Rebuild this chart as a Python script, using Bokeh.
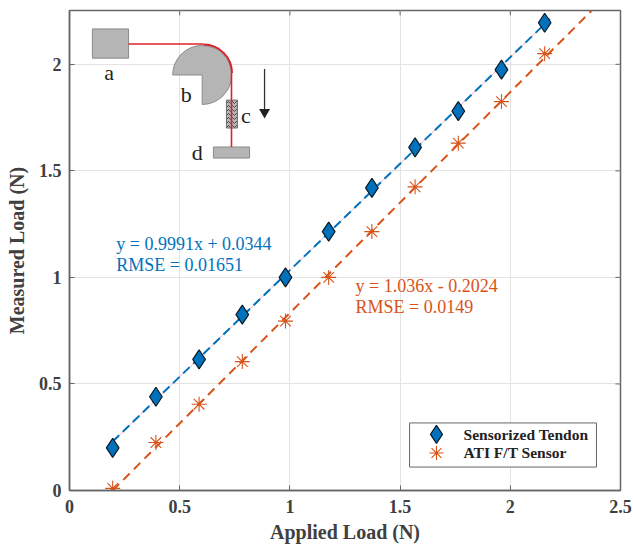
from bokeh.plotting import figure
from bokeh.embed import file_html
from bokeh.resources import INLINE
from bokeh.models import FixedTicker, Range1d
from bokeh.core.properties import value

# --- chart data ---
applied = [0.196, 0.392, 0.588, 0.784, 0.98, 1.176, 1.372, 1.568, 1.764, 1.96, 2.156]
tendon = [0.20, 0.44, 0.615, 0.825, 1.0, 1.215, 1.42, 1.61, 1.78, 1.975, 2.195]
ati = [0.01, 0.225, 0.405, 0.605, 0.795, 1.0, 1.215, 1.425, 1.63, 1.825, 2.05]
fit_tendon_x = [0.196, 2.18]
fit_tendon_y = [0.23, 2.213]
fit_ati_x = [0.196, 2.37]
fit_ati_y = [0.0, 2.253]
x_ticks = [0, 0.5, 1, 1.5, 2, 2.5]
x_labels = ["0", "0.5", "1", "1.5", "2", "2.5"]
y_ticks = [0, 0.5, 1, 1.5, 2]
y_labels = ["0", "0.5", "1", "1.5", "2"]
series_names = ["Sensorized Tendon", "ATI F/T Sensor"]

# --- schematic inset (in data units) ---
box_a = (0.104, 0.268, 2.029, 2.166)
box_d = (0.653, 0.817, 1.560, 1.612)
box_c = (0.712, 0.762, 1.701, 1.832)
pulley_xy = (0.602, 1.950)
tendon_x = [0.268, 0.608]
tendon_y = [2.095, 2.095]
drop_x = [0.735, 0.735]
drop_y = [1.959, 1.612]
arrow_x = [0.885, 0.885]
arrow_y = [1.978, 1.775]

BLUE, ORANGE = "#0072BD", "#D95319"
INK = "#404040"
SERIF = "Liberation Serif"
X_MAX, Y_MAX = 2.5, 2.2525

p = figure(width=633, height=545, output_backend="svg", toolbar_location=None,
           x_range=Range1d(0, X_MAX), y_range=Range1d(0, Y_MAX),
           min_border_left=69, min_border_right=13, min_border_top=10, min_border_bottom=55,
           background_fill_color="white", border_fill_color="white")

p.outline_line_color = "#666666"
p.outline_line_width = 1.5

def style(ax, ticks, labels):
    ax.ticker = FixedTicker(ticks=ticks)
    ax.major_label_overrides = {t: l for t, l in zip(ticks, labels)}
    ax.major_tick_in = 5
    ax.major_tick_out = 0
    ax.minor_tick_in = 0
    ax.minor_tick_out = 0
    ax.axis_line_color = "#666666"
    ax.axis_line_width = 1.5
    ax.major_tick_line_color = "#666666"
    ax.major_label_text_font = SERIF
    ax.major_label_text_font_style = "bold"
    ax.major_label_text_font_size = "18px"
    ax.major_label_text_color = INK
    ax.axis_label_text_font = SERIF
    ax.axis_label_text_font_style = "bold"
    ax.axis_label_text_font_size = "20px"
    ax.axis_label_text_color = INK

style(p.xaxis[0], x_ticks, x_labels)
style(p.yaxis[0], y_ticks, y_labels)
p.xaxis[0].axis_label = "Applied Load (N)"
p.yaxis[0].axis_label = "Measured Load (N)"
p.xaxis[0].major_label_standoff = 9
p.xaxis[0].axis_label_standoff = 5
p.xaxis[0].axis_label_text_line_height = 1.0
p.yaxis[0].major_label_standoff = 8
p.yaxis[0].axis_label_standoff = 8
p.yaxis[0].major_label_orientation = "horizontal"

p.grid.grid_line_color = "#e3e3e3"
p.grid.grid_line_width = 1
p.xgrid.ticker = FixedTicker(ticks=x_ticks)
p.ygrid.ticker = FixedTicker(ticks=y_ticks)

# top and right tick marks of the box
p.segment(x0=x_ticks[1:-1], x1=x_ticks[1:-1], y0=[Y_MAX] * 4, y1=[Y_MAX - 0.023] * 4,
          line_color="#666666", line_width=1)
p.segment(x0=[X_MAX] * 4, x1=[X_MAX - 0.023] * 4, y0=y_ticks[1:], y1=y_ticks[1:],
          line_color="#666666", line_width=1)

# schematic
for (l, r, b, t), fill in ((box_a, "#b5b5b5"), (box_d, "#b5b5b5")):
    p.quad(left=[l], right=[r], bottom=[b], top=[t], fill_color=fill, line_color="#8a8a8a", line_width=1)
l, r, b, t = box_c
p.quad(left=[l], right=[r], bottom=[b], top=[t], fill_color="#b8b8b8", line_color="#6e6e6e", line_width=1,
       hatch_pattern="horizontal_wave", hatch_color="#444444", hatch_scale=4, hatch_weight=1)
p.wedge(x=[pulley_xy[0]], y=[pulley_xy[1]], radius=[29.5], radius_units="screen",
        start_angle=[-1.5708], end_angle=[3.1416], direction="anticlock",
        fill_color="#b5b5b5", line_color="#8a8a8a", line_width=1)
p.line(tendon_x, tendon_y, line_color="#e0202a", line_width=1.6)
p.line(drop_x, drop_y, line_color="#e0202a", line_width=1.6)
p.arc(x=[0.608], y=[1.959], radius=[28.5], radius_units="screen", start_angle=[0], end_angle=[1.5708],
      direction="anticlock", line_color="#d81f2a", line_width=2)
p.line(arrow_x, arrow_y, line_color="#333333", line_width=1.3)
p.scatter(x=[arrow_x[0]], y=[1.775], marker="inverted_triangle", size=11, fill_color="#222222", line_color=None)
for txt, tx, ty in (("a", 0.18, 1.96), ("b", 0.53, 1.86), ("c", 0.80, 1.76), ("d", 0.58, 1.585)):
    p.text([tx], [ty], text=[txt], text_font=value(SERIF), text_font_size="22px", text_color="#222222",
           text_align="center", text_baseline="middle")

# fits
p.line(fit_tendon_x, fit_tendon_y, line_color="#f4b6c2", line_width=1)
p.line(fit_tendon_x, fit_tendon_y, line_color=BLUE, line_width=2, line_dash="9 5")
p.line(fit_ati_x, fit_ati_y, line_color=ORANGE, line_width=2, line_dash="9 6")

p.scatter(applied, ati, marker="asterisk", size=15, line_color=ORANGE, line_width=1.1, fill_color=None)
p.scatter(applied, tendon, marker="diamond", size=19, fill_color=BLUE, line_color="#0b1a26", line_width=1.2)

for txt, col, lx, ly in (("y = 0.9991x + 0.0344", BLUE, 0.212, 1.155),
                         ("RMSE = 0.01651", BLUE, 0.212, 1.057),
                         ("y = 1.036x - 0.2024", ORANGE, 1.298, 0.958),
                         ("RMSE = 0.0149", ORANGE, 1.298, 0.86)):
    p.text([lx], [ly], text=[txt], text_font=value(SERIF), text_font_size="18px", text_color=col,
           text_align="left", text_baseline="middle")

# legend box, drawn in place so its markers keep the reference's size
p.quad(left=[1.543], right=[2.391], bottom=[0.110], top=[0.317], fill_color="white",
       line_color="#666666", line_width=1)
p.scatter([1.665], [0.263], marker="diamond", size=18, fill_color=BLUE, line_color="#0b1a26", line_width=1.2)
p.scatter([1.665], [0.176], marker="asterisk", size=14, line_color=ORANGE, line_width=1.1, fill_color=None)
for name, ly in zip(series_names, (0.263, 0.176)):
    p.text([1.788], [ly], text=[name], text_font=value(SERIF), text_font_style="bold",
           text_font_size="15.5px", text_color="#222222", text_align="left", text_baseline="middle")

open("out.html", "w").write(file_html(p, INLINE))
